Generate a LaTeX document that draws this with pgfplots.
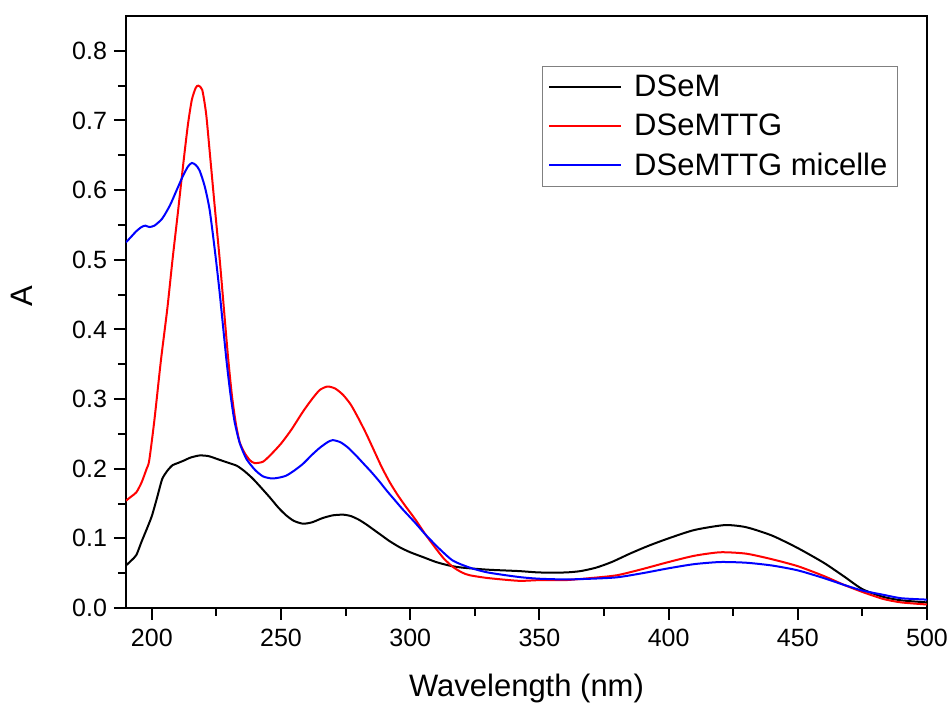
\documentclass[border=0pt]{standalone}
\usepackage{pgfplots}
\pgfplotsset{compat=1.18}
\usepackage{fontspec}
\setmainfont{Liberation Sans}

\begin{document}
\begin{tikzpicture}
\begin{axis}[
    % size of the plot box
    scale only axis,
    width  = 400.5pt,
    height = 296pt,
    xmin = 190, xmax = 500,
    ymin = 0,   ymax = 0.85,
    % ticks
    xtick = {200,250,300,350,400,450,500},
    ytick = {0,0.1,0.2,0.3,0.4,0.5,0.6,0.7,0.8},
    minor x tick num = 1,
    minor y tick num = 1,
    tick pos   = left,
    tick align = outside,
    major tick length = 6pt,
    minor tick length = 4pt,
    every tick/.style = {black, line width=1pt},
    axis line style   = {line width=1.1pt},
    /pgf/number format/assume math mode = true,
    ticklabel style  = {font=\fontsize{12.5}{15}\selectfont},
    yticklabel style = {/pgf/number format/.cd, fixed, fixed zerofill, precision=1},
    xticklabel style = {inner xsep=1pt, yshift=-1pt},
    % labels
    xlabel = {Wavelength (nm)},
    ylabel = {A},
    label style  = {font=\fontsize{15.5}{18}\selectfont},
    xlabel style = {at={(axis description cs:0.5,-0.150)}, anchor=base},
    ylabel style = {at={(axis description cs:-0.13,0.526)}, anchor=center},
    % legend
    legend style = {
        at     = {(0.9638,0.9155)},
        anchor = north east,
        draw   = gray,
        line width = 0.6pt,
        font   = \fontsize{15.5}{18}\selectfont,
        row sep    = 3.2pt,
        column sep = 4pt,
    },
    legend cell align = left,
    legend image code/.code = {\draw[#1, line width=1pt] (0pt,0pt) -- (36pt,0pt);},
]

    % DSeM
    \addplot[black, line width=1pt, smooth, tension=0.4] coordinates {
        (190,0.061) (192,0.068) (194,0.076) (196,0.095) (198,0.113) (200,0.132)
        (202,0.158) (204,0.185) (206,0.197) (208,0.205) (210,0.208) (212.6,0.212)
        (215,0.216) (218.5,0.219) (222,0.218) (226,0.213) (230,0.208) (233,0.204)
        (236,0.196) (239,0.186) (242,0.174) (245.6,0.159) (249,0.144) (252,0.133)
        (255,0.125) (258.5,0.121) (262,0.123) (266,0.129) (270,0.133) (274,0.134)
        (277,0.132) (280,0.127) (283,0.120) (286,0.112) (289,0.104) (292,0.096)
        (296,0.087) (300,0.080) (305,0.073) (310,0.066) (315,0.061) (320,0.058)
        (330,0.055) (342,0.053) (350,0.051) (360,0.051) (366,0.053) (372,0.058)
        (378,0.066) (385,0.078) (392,0.089) (400,0.100) (410,0.112) (421.7,0.119)
        (430,0.116) (440,0.104) (450,0.086) (460,0.065) (468,0.045) (475,0.027)
        (483,0.016) (490,0.011) (500,0.008)
    };
    \addlegendentry{DSeM}

    % DSeMTTG
    \addplot[red, line width=1pt, smooth, tension=0.4] coordinates {
        (190,0.154) (192,0.160) (194,0.166) (196,0.180) (198,0.200) (199,0.212)
        (201,0.270) (203.5,0.355) (206,0.430) (208,0.500) (210,0.565) (212.3,0.642)
        (214,0.695) (215.5,0.730) (217,0.747) (218,0.750) (219.5,0.744) (221,0.710)
        (222.4,0.655) (224.3,0.578) (226.3,0.499) (228,0.425) (229.5,0.360) (231,0.305)
        (232.5,0.265) (234,0.238) (236,0.222) (238,0.212) (239.8,0.208) (243,0.210)
        (246,0.220) (250,0.236) (254,0.256) (258.5,0.282) (262,0.300) (265,0.313)
        (268,0.318) (271,0.315) (274,0.306) (277,0.292) (280,0.272) (283,0.250)
        (286,0.226) (289,0.202) (292,0.181) (295,0.163) (298,0.147) (302,0.127)
        (306,0.105) (310,0.085) (313,0.071) (316.5,0.059) (320,0.051) (323,0.047)
        (330,0.043) (342,0.039) (350,0.040) (360,0.040) (370,0.043) (380,0.047)
        (390,0.056) (400,0.066) (410,0.075) (420,0.080) (430,0.078) (440,0.070)
        (450,0.060) (460,0.046) (468,0.033) (475,0.023) (483,0.013) (490,0.008)
        (500,0.005)
    };
    \addlegendentry{DSeMTTG}

    % DSeMTTG micelle
    \addplot[blue, line width=1pt, smooth, tension=0.4] coordinates {
        (190,0.525) (192,0.533) (194,0.541) (196,0.547) (197.5,0.549) (199,0.547)
        (201,0.549) (204,0.559) (207,0.578) (209.5,0.599) (212,0.620) (214,0.634)
        (215.5,0.639) (217,0.636) (218.5,0.628) (220.5,0.605) (222.4,0.571) (224.5,0.510)
        (226.3,0.451) (228.9,0.355) (230.5,0.305) (232,0.268) (234,0.237) (236.6,0.214)
        (240,0.198) (243,0.189) (246.3,0.186) (249,0.187) (252,0.190) (255,0.197)
        (258.5,0.207) (262,0.220) (265,0.230) (268,0.238) (270,0.241) (273,0.238)
        (276,0.230) (279,0.219) (282,0.207) (285,0.195) (288,0.182) (291,0.168)
        (294,0.155) (297,0.142) (302,0.122) (306,0.105) (311,0.086) (316.5,0.068)
        (323,0.058) (330,0.051) (342,0.0445) (350,0.042) (360,0.041) (370,0.042)
        (380,0.044) (390,0.050) (400,0.057) (410,0.063) (420,0.066) (430,0.065)
        (440,0.061) (450,0.054) (460,0.043) (468,0.033) (475,0.025) (483,0.019)
        (490,0.014) (500,0.012)
    };
    \addlegendentry{DSeMTTG micelle}

\end{axis}
% page margins round the plot box
\path ([xshift=-63pt,yshift=-48pt]current axis.south west)
    rectangle ([xshift=12.5pt,yshift=8pt]current axis.north east);
\end{tikzpicture}
\end{document}
